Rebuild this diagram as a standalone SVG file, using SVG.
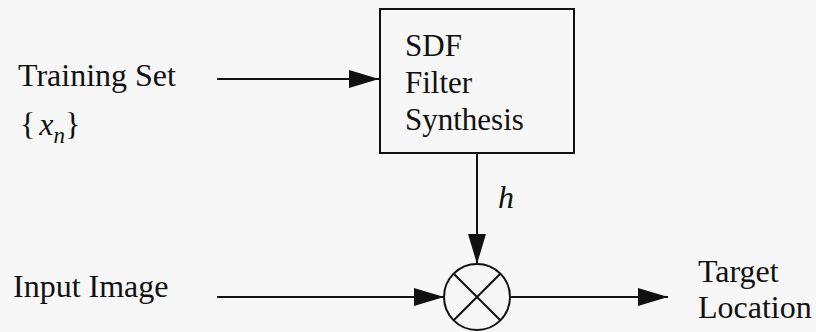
<svg xmlns="http://www.w3.org/2000/svg" width="816" height="332" viewBox="0 0 816 332">
<defs>
<style>
text { font-family: "Liberation Serif", "Times New Roman", serif; font-size: 32px; fill: #111; }
.box { font-size: 31px; }
.it { font-style: italic; }
.ln { stroke: #111; stroke-width: 2; fill: none; }
</style>
<marker id="ah" viewBox="0 0 30 18" refX="30" refY="9" markerWidth="30" markerHeight="18" markerUnits="userSpaceOnUse" orient="auto">
<path d="M0,0 L30,9 L0,18 Z" fill="#111"/>
</marker>
</defs>
<rect width="816" height="332" fill="#f7f7f7"/>
<g id="training">
<text x="18" y="86">Training Set</text>
<text x="20" y="135">{<tspan class="it" dx="4">x</tspan><tspan class="it" font-size="23" dy="8">n</tspan><tspan dy="-8">}</tspan></text>
</g>
<g id="sdf">
<rect x="380" y="9" width="194" height="144" class="ln"/>
<text x="405" y="56" class="box">SDF</text>
<text x="405" y="93" class="box">Filter</text>
<text x="405" y="130" class="box">Synthesis</text>
</g>
<g id="input">
<text x="13" y="297">Input Image</text>
</g>
<g id="mult">
<circle cx="477" cy="297" r="33" class="ln"/>
<line x1="453.7" y1="273.7" x2="500.3" y2="320.3" class="ln"/>
<line x1="500.3" y1="273.7" x2="453.7" y2="320.3" class="ln"/>
</g>
<g id="target">
<text x="698" y="282">Target</text>
<text x="698" y="318">Location</text>
</g>
<g id="connectors">
<line x1="217" y1="79" x2="379" y2="79" class="ln" marker-end="url(#ah)"/>
<line x1="477" y1="153" x2="477" y2="264" class="ln" marker-end="url(#ah)"/>
<line x1="217" y1="297" x2="444" y2="297" class="ln" marker-end="url(#ah)"/>
<line x1="510" y1="297" x2="668" y2="297" class="ln" marker-end="url(#ah)"/>
<text x="498" y="208" class="it">h</text>
</g>
</svg>
